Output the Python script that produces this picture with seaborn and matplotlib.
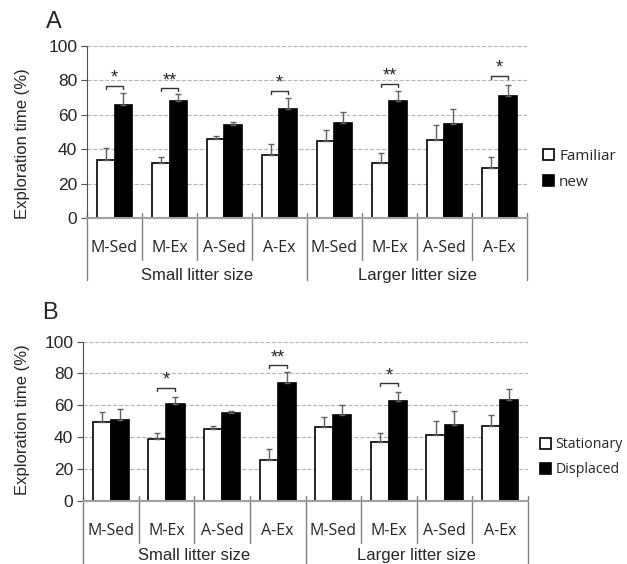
import pandas as pd
import seaborn as sns
import matplotlib.pyplot as plt
import matplotlib.transforms as mtransforms

categories = ['M-Sed', 'M-Ex', 'A-Sed', 'A-Ex']
litter = ['Small litter size', 'Larger litter size']

a_names = ['Familiar', 'new']
a_familiar = [34.0, 31.7, 46.0, 36.5, 44.9, 31.7, 45.4, 29.1]
a_familiar_err = [6.8, 3.6, 1.6, 6.6, 6.2, 5.8, 8.6, 6.2]
a_new = [65.8, 68.2, 54.0, 63.3, 55.1, 68.2, 54.8, 70.7]
a_new_err = [7.0, 3.7, 1.9, 6.2, 6.8, 5.6, 8.7, 6.8]
a_sig_pos = [0, 1, 3, 5, 7]
a_sig_y = [77.0, 75.5, 73.8, 78.0, 82.5]
a_sig_txt = ['*', '**', '*', '**', '*']

b_names = ['Stationary', 'Displaced']
b_stationary = [49.2, 38.9, 44.8, 25.7, 46.2, 37.0, 41.2, 46.9]
b_stationary_err = [6.7, 3.6, 1.9, 6.5, 6.5, 5.6, 8.6, 6.7]
b_displaced = [50.4, 60.5, 54.8, 74.1, 53.6, 62.8, 47.3, 63.4]
b_displaced_err = [7.5, 4.4, 1.7, 6.5, 6.3, 5.6, 8.8, 6.5]
b_sig_pos = [1, 3, 5]
b_sig_y = [70.7, 85.1, 73.8]
b_sig_txt = ['*', '**', '*']

sns.set_style('white')
plt.rcParams['font.family'] = ['Liberation Sans', 'DejaVu Sans']

fig = plt.figure(figsize=(6.27, 5.64), dpi=100)


def panel(ax, v1, e1, v2, e2, names, sig_pos, sig_y, sig_txt, leg_x, leg_y,
          leg_size, lab_off, outer_len):
    keys = [f'{g}|{c}' for g in litter for c in categories]
    df = pd.DataFrame({
        'key': keys * 2,
        'cond': [names[0]] * 8 + [names[1]] * 8,
        'val': v1 + v2,
    })
    sns.barplot(data=df, x='key', y='val', hue='cond', order=keys,
                hue_order=names, palette=['white', 'black'], width=0.65,
                edgecolor='black', linewidth=1.2, errorbar=None,
                legend=False, ax=ax, zorder=2)
    for cont, err in zip(ax.containers, [e1, e2]):
        xs = [b.get_x() + b.get_width() / 2 for b in cont]
        hs = [b.get_height() for b in cont]
        ax.errorbar(xs, hs, yerr=[[0] * len(err), err], fmt='none',
                    ecolor='#606060', elinewidth=1, capsize=2.5, zorder=3)

    ax.set_ylim(0, 100)
    ax.set_xlim(-0.5, 7.5)
    ax.set_yticks(range(0, 101, 20))
    ax.yaxis.grid(True, ls='--', color='#b5b5b5', lw=0.8)
    ax.set_axisbelow(True)
    sns.despine(ax=ax)
    ax.spines['left'].set_color('#505050')
    ax.spines['bottom'].set_color('#a0a0a0')
    ax.spines['bottom'].set_linewidth(1.5)
    ax.tick_params(axis='y', left=True, length=4, color='#505050',
                   labelsize=12.5, pad=3)
    ax.set_xticks(range(8))
    ax.set_xticklabels(categories * 2, fontsize=11.5, family=['Open Sans'])
    ax.tick_params(axis='x', length=0, pad=16)
    ax.set_xlabel('')
    ax.set_ylabel('')

    trans = mtransforms.blended_transform_factory(ax.transData, ax.transAxes)
    px = 1.0 / ax.get_window_extent().height
    for i in range(9):
        x = i - 0.5
        bottom = -outer_len * px if i in (0, 4, 8) else -42 * px
        ax.plot([x, x], [5 * px, bottom], color='#808080', lw=1,
                transform=trans, clip_on=False)
    for j, name in enumerate(litter):
        ax.text(1.5 + 4 * j, -lab_off * px, name, transform=trans,
                ha='center', va='center', fontsize=12)

    w = ax.containers[0][0].get_width()
    for p, y, t in zip(sig_pos, sig_y, sig_txt):
        x0, x1 = p - w / 2, p + w / 2
        ax.plot([x0, x0, x1, x1], [y - 1.8, y, y, y - 1.8], color='#333333',
                lw=1, zorder=4)
        ax.text(p, y - 0.5, t, ha='center', va='bottom', fontsize=13)

    ax.legend([ax.containers[0], ax.containers[1]], names,
              loc='center left', bbox_to_anchor=(leg_x, leg_y),
              bbox_transform=fig.transFigure, frameon=False,
              borderaxespad=0, borderpad=0, handlelength=0.75,
              handleheight=0.75, handletextpad=0.3, labelspacing=0.7,
              prop={'family': 'Open Sans', 'size': leg_size})


ax_a = fig.add_axes([87 / 627, 346 / 564, 440 / 627, 172 / 564])
panel(ax_a, a_familiar, a_familiar_err, a_new, a_new_err, a_names,
      a_sig_pos, a_sig_y, a_sig_txt, 0.866, 0.700, 11, 58, 62)

ax_b = fig.add_axes([83 / 627, 63.3 / 564, 445 / 627, 159.2 / 564])
panel(ax_b, b_stationary, b_stationary_err, b_displaced, b_displaced_err,
      b_names, b_sig_pos, b_sig_y, b_sig_txt, 0.862, 0.189, 10.2, 55, 64)

fig.text(54 / 627, 1 - 22 / 564, 'A', ha='center', va='center', fontsize=17)
fig.text(50 / 627, 1 - 313 / 564, 'B', ha='center', va='center', fontsize=17)
fig.text(23 / 627, 1 - 143.5 / 564, 'Exploration time (%)', rotation=90,
         ha='center', va='center', fontsize=12)
fig.text(23 / 627, 1 - 419.5 / 564, 'Exploration time (%)', rotation=90,
         ha='center', va='center', fontsize=12)

fig.savefig('out.png', dpi=100)
